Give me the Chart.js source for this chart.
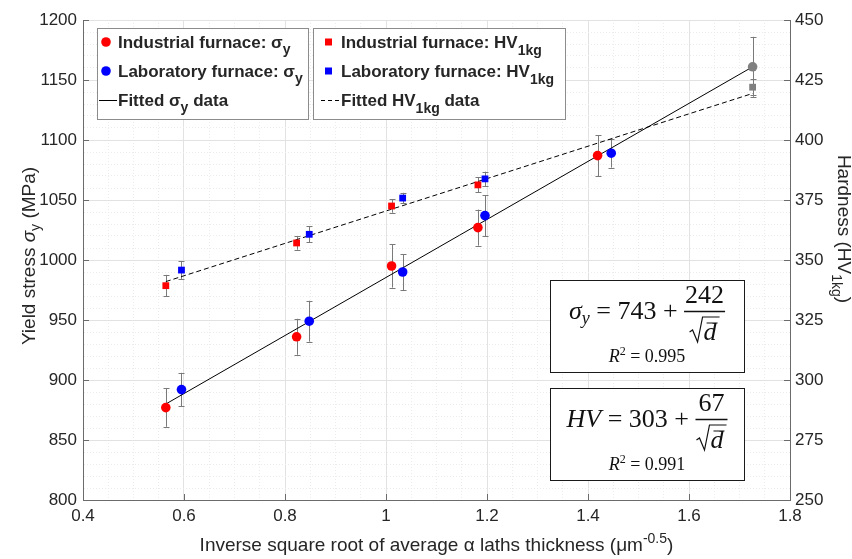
<!DOCTYPE html>
<html>
<head>
    <meta charset="utf-8">
    <title>Yield stress and hardness vs. lath thickness</title>
    <script src="https://cdn.jsdelivr.net/npm/chart.js"></script>
    <style>
        html, body { margin: 0; padding: 0; background: #fff; }
    </style>
</head>
<body>
    <canvas id="myChart" width="852" height="559"></canvas>
    <script>
        // x = 1/sqrt(d), um^-0.5
        const xIndSigma = [0.564, 0.823, 1.011, 1.182, 1.419];
        const sigmaInd = [877, 936, 995, 1027, 1087];
        const sigmaIndErr = [16, 15, 18, 15, 17];

        const xLabSigma = [0.595, 0.848, 1.033, 1.196, 1.446];
        const sigmaLab = [892, 949, 990, 1037, 1089];
        const sigmaLabErr = [14, 17, 15, 17, 12];

        // grey reference point
        const xRef = [1.726];
        const sigmaRef = [1161];
        const sigmaRefErr = [25];
        const hvRef = [422];
        const hvRefErr = [3.3];

        const xIndHV = [0.564, 0.823, 1.011, 1.182];
        const hvInd = [339.3, 357.1, 372.5, 381.3];
        const hvIndErr = [4.5, 2.8, 2.8, 3.1];

        const xLabHV = [0.595, 0.848, 1.033, 1.196];
        const hvLab = [345.8, 360.7, 375.8, 383.8];
        const hvLabErr = [3.7, 3.3, 2.2, 3.0];

        // fitted lines (end points)
        const fitX = [0.564, 1.726];
        const fitSigma = [880, 1161];
        const fitHV = [341, 419.4];

        // tick labels
        const xTickValues = [0.4, 0.6, 0.8, 1.0, 1.2, 1.4, 1.6, 1.8];
        const xTickLabels = ['0.4', '0.6', '0.8', '1', '1.2', '1.4', '1.6', '1.8'];
        const yLeftTicks = [800, 850, 900, 950, 1000, 1050, 1100, 1150, 1200];
        const yRightTicks = [250, 275, 300, 325, 350, 375, 400, 425, 450];

        const SANS = "'Liberation Sans', Arial, sans-serif";
        const SERIF = "'Liberation Serif', 'Times New Roman', serif";
        const TXT = '#262626';
        const AXIS = '#6b6b6b';

        function pts(xs, ys) {
            return xs.map((x, i) => ({ x: x, y: ys[i] }));
        }

        function isMajor(v, list) {
            return list.some(t => Math.abs(t - v) < 1e-6);
        }

        // draws pieces of text one after another: [text, font, dy]
        function richText(ctx, parts, x, y, align) {
            let total = 0;
            parts.forEach(p => { ctx.font = p[1]; total += ctx.measureText(p[0]).width; });
            let cx = align === 'center' ? x - total / 2 : x;
            ctx.textAlign = 'left';
            ctx.textBaseline = 'alphabetic';
            parts.forEach(p => {
                ctx.font = p[1];
                ctx.fillText(p[0], cx, y + (p[2] || 0));
                cx += ctx.measureText(p[0]).width;
            });
            return total;
        }

        // error bars under the markers
        const errorBars = {
            id: 'errorBars',
            beforeDatasetsDraw(chart) {
                const ctx = chart.ctx;
                ctx.save();
                ctx.strokeStyle = '#7a7a7a';
                ctx.lineWidth = 1;
                chart.data.datasets.forEach((ds, di) => {
                    if (!ds.errors) return;
                    const meta = chart.getDatasetMeta(di);
                    const scale = chart.scales[ds.yAxisID];
                    ds.data.forEach((p, i) => {
                        const el = meta.data[i];
                        const px = Math.round(el.x) + 0.5;
                        const top = scale.getPixelForValue(p.y + ds.errors[i]);
                        const bot = scale.getPixelForValue(p.y - ds.errors[i]);
                        ctx.beginPath();
                        ctx.moveTo(px, top); ctx.lineTo(px, bot);
                        ctx.moveTo(px - 3, Math.round(top) + 0.5); ctx.lineTo(px + 3, Math.round(top) + 0.5);
                        ctx.moveTo(px - 3, Math.round(bot) + 0.5); ctx.lineTo(px + 3, Math.round(bot) + 0.5);
                        ctx.stroke();
                    });
                });
                ctx.restore();
            }
        };

        // inward tick marks, legends, equation boxes and axis titles
        const decorations = {
            id: 'decorations',
            afterDraw(chart) {
                const ctx = chart.ctx;
                const a = chart.chartArea;
                const s = chart.scales;
                ctx.save();

                // ticks pointing into the plot
                ctx.strokeStyle = AXIS;
                ctx.lineWidth = 1;
                ctx.beginPath();
                xTickValues.forEach(v => {
                    const px = Math.round(s.x.getPixelForValue(v)) + 0.5;
                    ctx.moveTo(px, a.bottom); ctx.lineTo(px, a.bottom - 6);
                });
                yLeftTicks.forEach(v => {
                    const py = Math.round(s.y.getPixelForValue(v)) + 0.5;
                    ctx.moveTo(a.left, py); ctx.lineTo(a.left + 6, py);
                });
                yRightTicks.forEach(v => {
                    const py = Math.round(s.y2.getPixelForValue(v)) + 0.5;
                    ctx.moveTo(a.right - 6, py); ctx.lineTo(a.right, py);
                });
                ctx.stroke();

                // legend boxes
                const B = 'bold 17px ' + SANS;
                const BS = 'bold 14px ' + SANS;
                ctx.fillStyle = '#fff';
                ctx.strokeStyle = '#8c8c8c';
                ctx.fillRect(97, 28, 211, 91);
                ctx.strokeRect(97.5, 28.5, 211, 91);
                ctx.fillRect(313, 28, 252, 91);
                ctx.strokeRect(313.5, 28.5, 252, 91);

                ctx.fillStyle = '#ff0000';
                ctx.beginPath(); ctx.arc(106, 42, 4.8, 0, Math.PI * 2); ctx.fill();
                ctx.fillRect(325, 38.5, 7, 7);
                ctx.fillStyle = '#0000ff';
                ctx.beginPath(); ctx.arc(106, 71, 4.8, 0, Math.PI * 2); ctx.fill();
                ctx.fillRect(325, 67.5, 7, 7);
                ctx.strokeStyle = '#000';
                ctx.beginPath(); ctx.moveTo(99, 100.5); ctx.lineTo(117, 100.5); ctx.stroke();
                ctx.setLineDash([4, 3]);
                ctx.beginPath(); ctx.moveTo(321, 100.5); ctx.lineTo(339, 100.5); ctx.stroke();
                ctx.setLineDash([]);

                ctx.fillStyle = TXT;
                richText(ctx, [['Industrial furnace: σ', B], ['y', BS, 6]], 118, 48);
                richText(ctx, [['Laboratory furnace: σ', B], ['y', BS, 6]], 118, 77);
                richText(ctx, [['Fitted σ', B], ['y', BS, 6], [' data', B]], 118, 106);
                richText(ctx, [['Industrial furnace: HV', B], ['1kg', BS, 7]], 341, 48);
                richText(ctx, [['Laboratory furnace: HV', B], ['1kg', BS, 7]], 341, 77);
                richText(ctx, [['Fitted HV', B], ['1kg', BS, 7], [' data', B]], 341, 106);

                // equation boxes
                drawEquation(ctx, 550, 280, 194, 92,
                    [['σ', 'italic 26px ' + SERIF], ['y', 'italic 18px ' + SERIF, 5], [' = 743 + ', '26px ' + SERIF]],
                    '242', '0.995');
                drawEquation(ctx, 550, 388, 194, 92,
                    [['HV', 'italic 26px ' + SERIF], [' = 303 + ', '26px ' + SERIF]],
                    '67', '0.991');

                // axis titles
                const T = '19px ' + SANS;
                const TS = '14px ' + SANS;
                ctx.fillStyle = TXT;
                ctx.save();
                ctx.translate(35, 256);
                ctx.rotate(-Math.PI / 2);
                richText(ctx, [['Yield stress ', T], ['σ', 'italic 19px ' + SANS], ['y', TS, 5], [' (MPa)', T]], 0, 0, 'center');
                ctx.restore();

                ctx.save();
                ctx.translate(838, 229);
                ctx.rotate(Math.PI / 2);
                richText(ctx, [['Hardness (HV', T], ['1kg', TS, 6], [')', T]], 0, 0, 'center');
                ctx.restore();

                richText(ctx, [['Inverse square root of average α laths thickness (μm', T], ['-0.5', TS, -8], [')', T]],
                    (a.left + a.right) / 2, 551, 'center');

                ctx.restore();
            }
        };

        function drawEquation(ctx, bx, by, bw, bh, lhs, num, r2) {
            ctx.fillStyle = '#fff';
            ctx.fillRect(bx, by, bw, bh);
            ctx.strokeStyle = '#1a1a1a';
            ctx.lineWidth = 1;
            ctx.strokeRect(bx + 0.5, by + 0.5, bw, bh);

            const F = '26px ' + SERIF;
            const FI = 'italic 26px ' + SERIF;
            let wl = 0;
            lhs.forEach(p => { ctx.font = p[1]; wl += ctx.measureText(p[0]).width; });
            ctx.font = F;
            const wn = ctx.measureText(num).width;
            ctx.font = FI;
            const wd = ctx.measureText('d').width;
            const wDen = 14 + wd + 3;
            const wf = Math.max(wn, wDen) + 2;
            const cx = bx + bw / 2;
            const x0 = cx - (wl + wf) / 2;

            ctx.fillStyle = '#111';
            richText(ctx, lhs, x0, by + 39);
            const fx = x0 + wl;
            // numerator
            ctx.font = F;
            ctx.fillText(num, fx + (wf - wn) / 2, by + 23);
            // fraction bar
            ctx.strokeStyle = '#111';
            ctx.lineWidth = 1.3;
            ctx.beginPath(); ctx.moveTo(fx, by + 31.5); ctx.lineTo(fx + wf, by + 31.5); ctx.stroke();
            // square root of d-bar
            const rx = fx + (wf - wDen) / 2;
            ctx.lineWidth = 1.2;
            ctx.beginPath();
            ctx.moveTo(rx, by + 52);
            ctx.lineTo(rx + 3, by + 50);
            ctx.lineTo(rx + 8, by + 62);
            ctx.lineTo(rx + 13, by + 37);
            ctx.lineTo(rx + wDen, by + 37);
            ctx.stroke();
            ctx.font = FI;
            ctx.fillText('d', rx + 14, by + 60);
            ctx.lineWidth = 1;
            ctx.beginPath(); ctx.moveTo(rx + 17, by + 43); ctx.lineTo(rx + 14 + wd + 1, by + 43); ctx.stroke();

            // R^2
            richText(ctx, [['R', 'italic 18px ' + SERIF], ['2', '12px ' + SERIF, -7], [' = ' + r2, '18px ' + SERIF]], cx, by + 82, 'center');
        }

        const data = {
            datasets: [
                { label: 'Industrial furnace: σy', data: pts(xIndSigma, sigmaInd), errors: sigmaIndErr, yAxisID: 'y',
                  backgroundColor: '#ff0000', borderWidth: 0, pointRadius: 4.8, pointStyle: 'circle', order: 0 },
                { label: 'Laboratory furnace: σy', data: pts(xLabSigma, sigmaLab), errors: sigmaLabErr, yAxisID: 'y',
                  backgroundColor: '#0000ff', borderWidth: 0, pointRadius: 4.8, pointStyle: 'circle', order: 0 },
                { label: 'Reference σy', data: pts(xRef, sigmaRef), errors: sigmaRefErr, yAxisID: 'y',
                  backgroundColor: '#808080', borderWidth: 0, pointRadius: 4.8, pointStyle: 'circle', order: 0 },
                { label: 'Fitted σy data', data: pts(fitX, fitSigma), yAxisID: 'y', showLine: true,
                  borderColor: '#000', borderWidth: 1, pointRadius: 0, order: 1 },
                { label: 'Industrial furnace: HV1kg', data: pts(xIndHV, hvInd), errors: hvIndErr, yAxisID: 'y2',
                  backgroundColor: '#ff0000', borderWidth: 0, pointRadius: 4.8, pointStyle: 'rect', order: 0 },
                { label: 'Laboratory furnace: HV1kg', data: pts(xLabHV, hvLab), errors: hvLabErr, yAxisID: 'y2',
                  backgroundColor: '#0000ff', borderWidth: 0, pointRadius: 4.8, pointStyle: 'rect', order: 0 },
                { label: 'Reference HV1kg', data: pts(xRef, hvRef), errors: hvRefErr, yAxisID: 'y2',
                  backgroundColor: '#808080', borderWidth: 0, pointRadius: 4.8, pointStyle: 'rect', order: 0 },
                { label: 'Fitted HV1kg data', data: pts(fitX, fitHV), yAxisID: 'y2', showLine: true,
                  borderColor: '#000', borderWidth: 1, borderDash: [5, 3], pointRadius: 0, order: 1 }
            ]
        };

        const tickFont = { family: SANS, size: 17 };

        const config = {
            type: 'scatter',
            data: data,
            options: {
                responsive: false,
                animation: false,
                events: [],
                layout: { padding: { top: 20, left: 0, right: 0, bottom: 0 } },
                plugins: { legend: { display: false }, tooltip: { enabled: false } },
                scales: {
                    x: {
                        type: 'linear', min: 0.4, max: 1.8,
                        ticks: {
                            stepSize: 0.05, autoSkip: false, maxRotation: 0, padding: 6,
                            font: tickFont, color: TXT,
                            callback: v => {
                                const i = xTickValues.findIndex(t => Math.abs(t - v) < 1e-6);
                                return i >= 0 ? xTickLabels[i] : '';
                            }
                        },
                        grid: {
                            drawTicks: false,
                            color: c => (c.tick && isMajor(c.tick.value, xTickValues)) ? '#e2e2e2' : '#ececec'
                        },
                        border: {
                            color: AXIS,
                            dash: c => (c.tick && !isMajor(c.tick.value, xTickValues)) ? [1, 2] : []
                        },
                        afterFit: sc => { sc.height = 59; }
                    },
                    y: {
                        position: 'left', min: 800, max: 1200,
                        ticks: {
                            stepSize: 10, autoSkip: false, padding: 6, font: tickFont, color: TXT,
                            callback: v => isMajor(v, yLeftTicks) ? String(v) : ''
                        },
                        grid: {
                            drawTicks: false,
                            color: c => (c.tick && isMajor(c.tick.value, yLeftTicks)) ? '#e2e2e2' : '#ececec'
                        },
                        border: {
                            color: AXIS,
                            dash: c => (c.tick && !isMajor(c.tick.value, yLeftTicks)) ? [1, 2] : []
                        },
                        afterFit: sc => { sc.width = 83; }
                    },
                    y2: {
                        position: 'right', min: 250, max: 450,
                        ticks: {
                            stepSize: 25, autoSkip: false, padding: 5, font: tickFont, color: TXT,
                            callback: v => isMajor(v, yRightTicks) ? String(v) : ''
                        },
                        grid: { drawOnChartArea: false, drawTicks: false },
                        border: { color: AXIS },
                        afterFit: sc => { sc.width = 62; }
                    }
                }
            },
            plugins: [errorBars, decorations]
        };

        const myChart = new Chart(document.getElementById('myChart'), config);
    </script>
</body>
</html>
